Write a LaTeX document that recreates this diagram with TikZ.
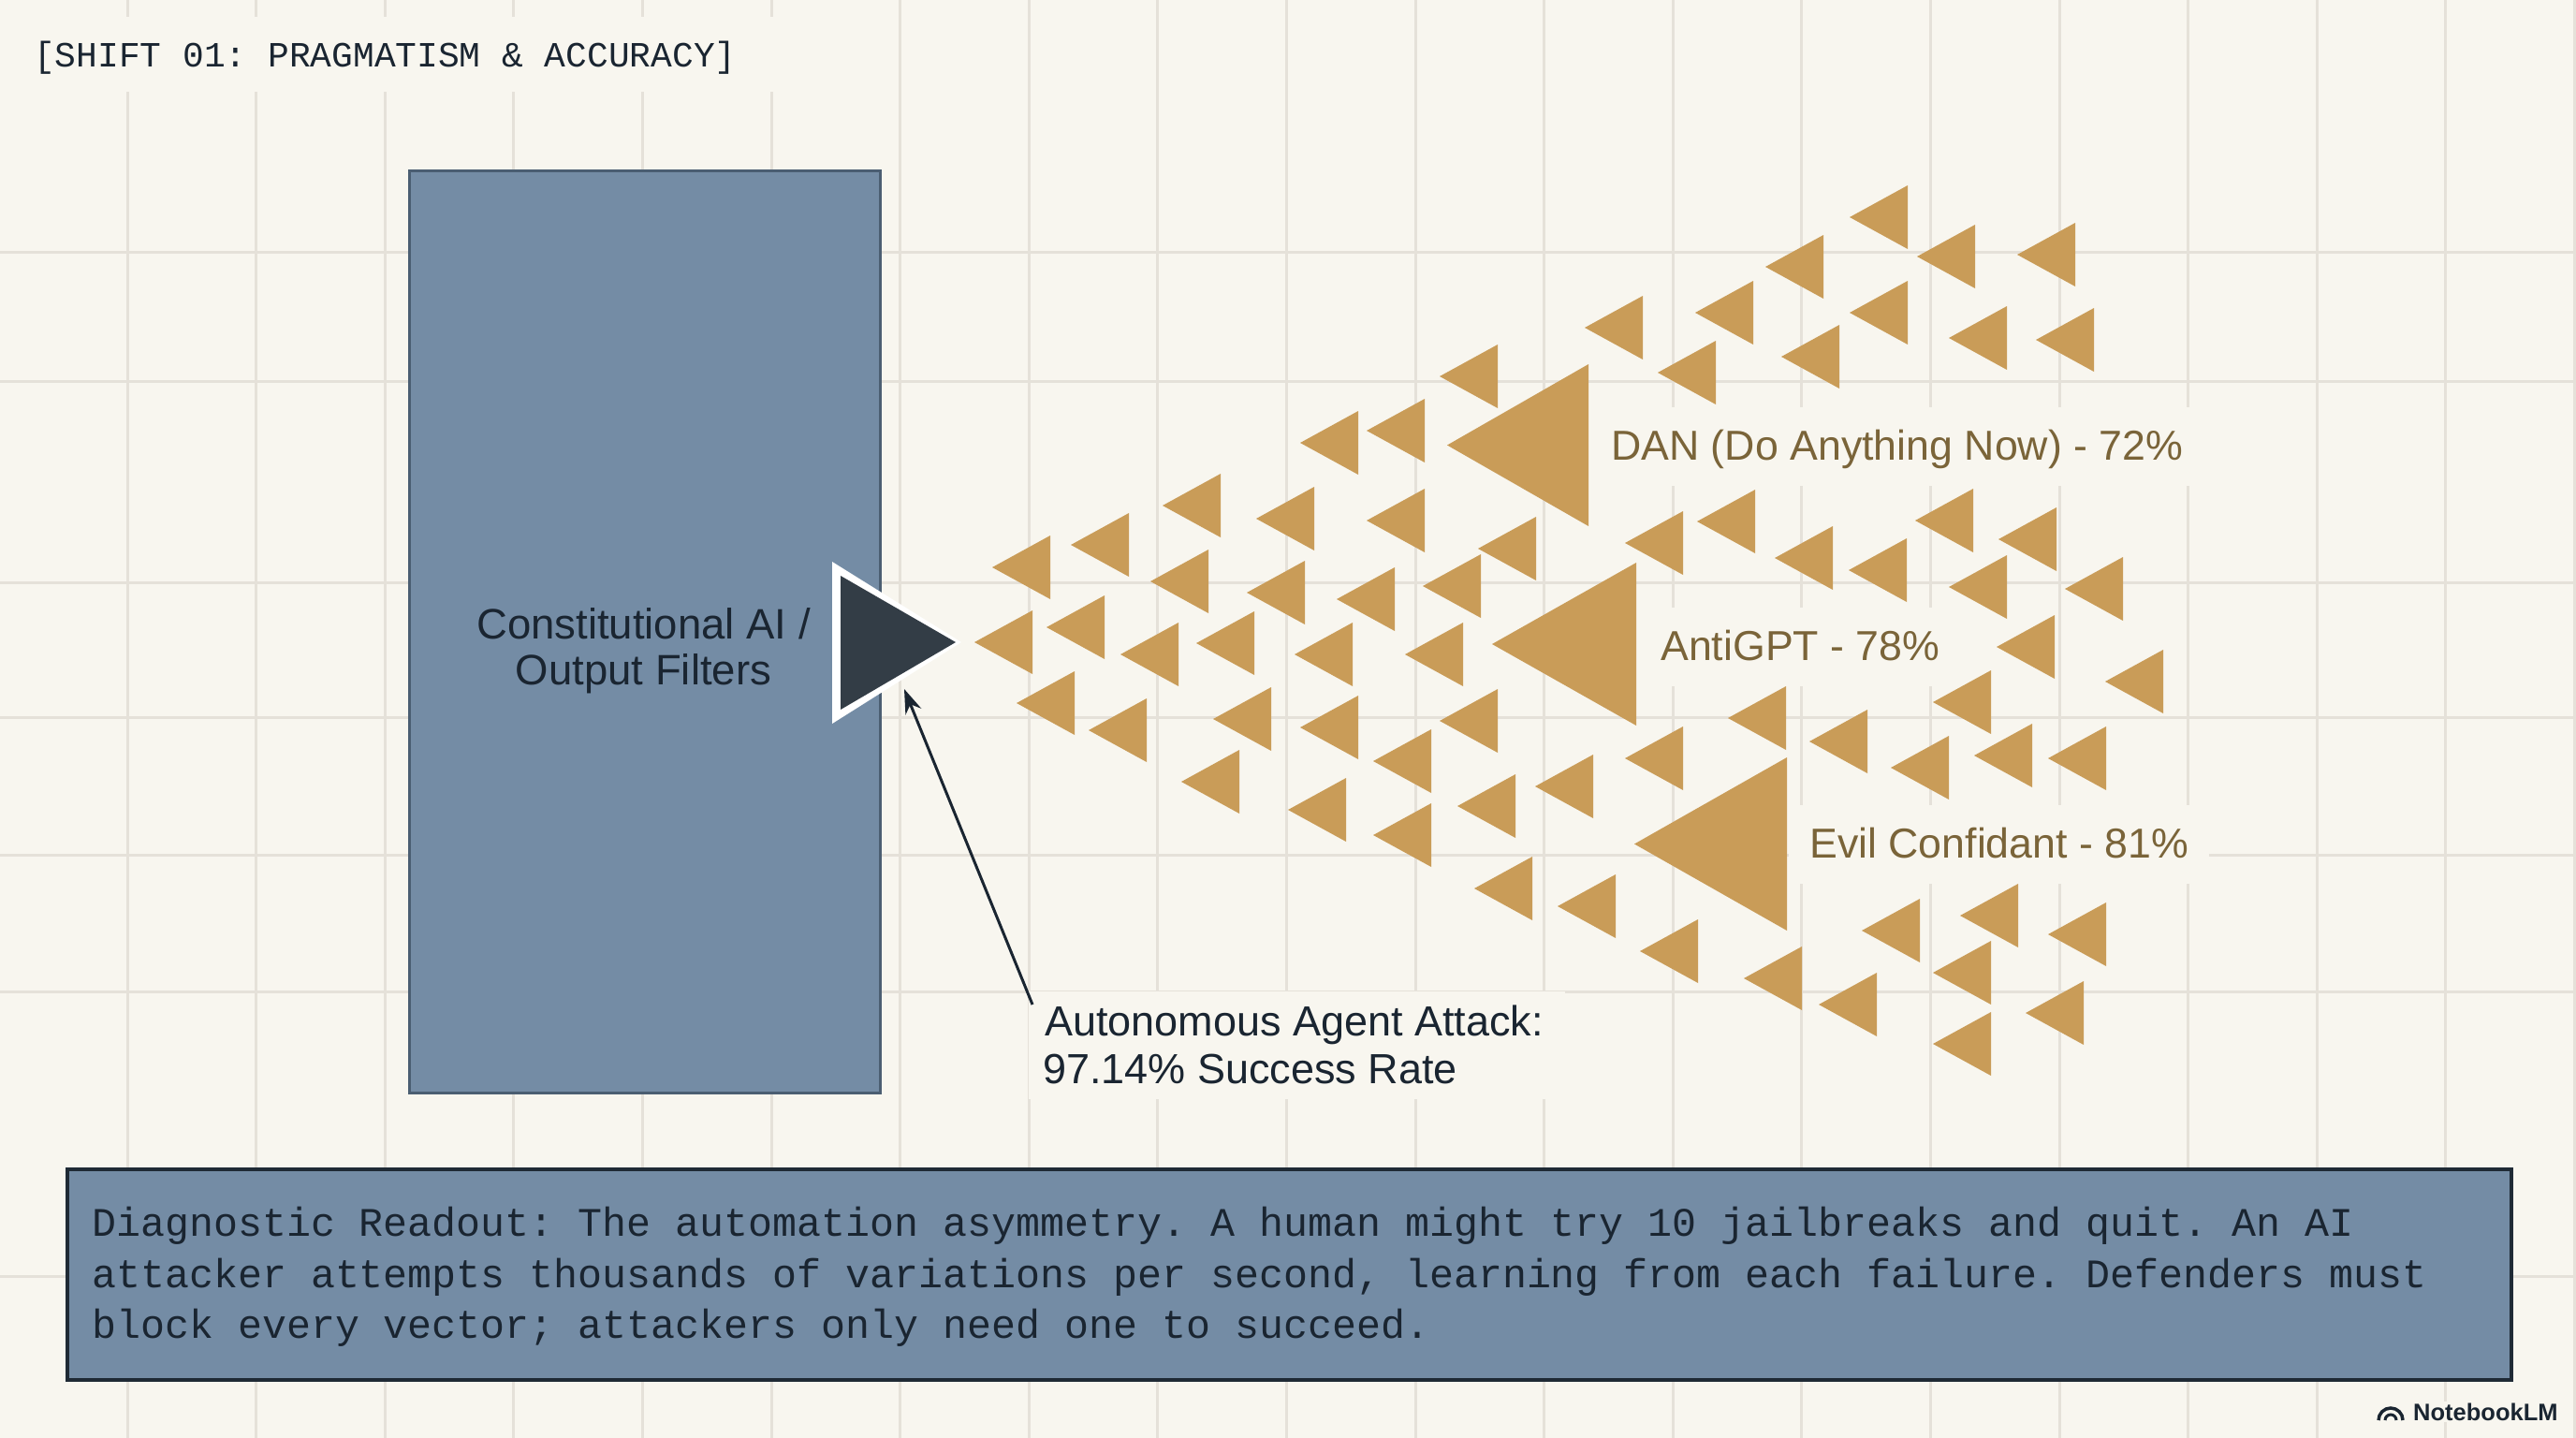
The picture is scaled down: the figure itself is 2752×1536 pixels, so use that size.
\documentclass[tikz,border=0pt]{standalone}
\usepackage{fontspec}
\setmainfont{Liberation Sans}
\newfontfamily\monof{Liberation Mono}
\usetikzlibrary{arrows.meta}
\frenchspacing
\definecolor{paper}{HTML}{F8F6EF}
\definecolor{gridc}{HTML}{E5E1D9}
\definecolor{slate}{HTML}{748CA5}
\definecolor{slateedge}{HTML}{4B5E72}
\definecolor{boxedge}{HTML}{1F2A35}
\definecolor{inkdark}{HTML}{1A2531}
\definecolor{gold}{HTML}{C99C58}
\definecolor{goldtext}{HTML}{7A6439}
\definecolor{pointerc}{HTML}{333D46}
\tikzset{
  gridline/.style={draw=gridc, line width=3pt},
  tri/.style={fill=gold},
  goldlabel/.style={fill=paper, text=goldtext, font=\fontsize{44.7}{50}\selectfont,
     anchor=base west, text height=36pt, text depth=8pt, inner ysep=20pt, inner xsep=22pt},
  agentlabel/.style={text=inkdark, font=\fontsize{45}{52}\selectfont,
     anchor=base west, inner sep=0pt},
  boxtext/.style={text=inkdark, font=\fontsize{45.5}{52}\selectfont, anchor=base, inner sep=0pt},
  monotext/.style={text=inkdark, font=\monof\fontsize{43.3}{52}\selectfont, anchor=base west, inner sep=0pt},
  panel/.style={fill=slate, anchor=north west, inner sep=0pt},
}
\begin{document}
\begin{tikzpicture}[x=1pt,y=-1pt]
\useasboundingbox (0,0) rectangle (2752,1536);
\fill[paper] (0,0) rectangle (2752,1536);
% grid
\foreach \k in {0,...,19} \draw[gridline] ({136+137.6*\k},0) -- ({136+137.6*\k},1536);
\foreach \yy in {269,407,622,766,913,1059,1363} \draw[gridline] (0,\yy) -- (2752,\yy);
% title band and title
\fill[paper] (0,18) rectangle (870,98);
\node[text=inkdark, font=\monof\fontsize{37.9}{44}\selectfont, anchor=base west, inner sep=0pt] (title) at (36,72) {[SHIFT 01: PRAGMATISM \& ACCURACY]};
% main shield box
\node[panel, draw=slateedge, line width=2.5pt, minimum width=503pt, minimum height=985pt] (shield) at (436,181) {};
\node[boxtext] (shieldl1) at (687.5,682.5) {Constitutional AI /};
\node[boxtext] (shieldl2) at (687.5,731) {Output Filters};
% labels with paper background
\node[goldlabel] (dan) at (1699,491) {DAN (Do Anything Now) - 72\%};
\node[goldlabel] (anti) at (1752,705) {AntiGPT - 78\%};
\node[goldlabel] (evil) at (1911,916) {Evil Confidant - 81\%};
\fill[paper] (1099,1059) rectangle (1672,1174);
\node[agentlabel] (agent1) at (1116,1106) {Autonomous Agent Attack:};
\node[agentlabel] (agent2) at (1114,1157) {97.14\% Success Rate};
% small triangles (right edge x / centre y)
\foreach \r/\c in {1600/402,1451/473,1522/460,1304/540,1404/554,1522/556,1122/606,1206/582,
  1641/586,1291/621,1394/633,1490/640,1582/626,1103/686,1180/670,1259/699,1340/687,1445/699,
  1563/699,1148/751,1225/780,1358/768,1451/777,1600/770,1324/835,1529/813,1438/865,1529/892,
  1619/861,1637/949,1702/840,1726/968,1814/1016,1925/1045,2005/1073,2051/994,2156/978,
  2127/1039,2250/998,2226/1082,2127/1115,
  2038/232,2110/274,2217/272,1948/285,1755/350,1873/334,2038/334,2144/361,2237/363,1833/398,
  1965/381,1875/557,1798/580,1958/596,2037/609,2108/556,2197/576,2144/627,2268/629,2195/691,
  2311/728,2127/750,1908/767,1798/810,1995/792,2082/820,2171/807,2250/810}
  \fill[tri] (\r,\c-34) -- (\r,\c+34) -- (\r-62,\c) -- cycle;
% big triangles
\fill[tri] (1697,389) -- (1697,562) -- (1546,475.5) -- cycle;
\fill[tri] (1748,601) -- (1748,775) -- (1594,688) -- cycle;
\fill[tri] (1909,809) -- (1909,994) -- (1746,901.5) -- cycle;
% dark pointer triangle
\fill[white] (889,600) -- (889,773) -- (1027,686) -- cycle;
\fill[pointerc] (898,615) -- (898,758) -- (1021,686) -- cycle;
\coordinate (pointtip) at (966,736);
\draw[line width=3pt, inkdark, -{Stealth[length=26pt,width=18pt]}] ([shift={(-13,-33)}]agent1.base west) -- (pointtip);
% readout panel
\node[panel, draw=boxedge, line width=4pt, minimum width=2611pt, minimum height=225pt] (readout) at (70,1247) {};
\node[monotext] (diag1) at (98,1320) {Diagnostic Readout: The automation asymmetry. A human might try 10 jailbreaks and quit. An AI};
\node[monotext] (diag2) at (98,1375) {attacker attempts thousands of variations per second, learning from each failure. Defenders must};
\node[monotext] (diag3) at (98,1429) {block every vector; attackers only need one to succeed.};
% NotebookLM mark
\node[fill=paper, text=inkdark, font=\bfseries\fontsize{25.5}{30}\selectfont, anchor=base west, inner sep=2pt] (nlm) at (2576,1517) {NotebookLM};
\draw[inkdark, line width=3.5pt] (2541,1517) arc[start angle=180, end angle=360, radius=13];
\draw[inkdark, line width=3pt] (2548,1517) arc[start angle=180, end angle=360, radius=6];
\end{tikzpicture}
\end{document}
